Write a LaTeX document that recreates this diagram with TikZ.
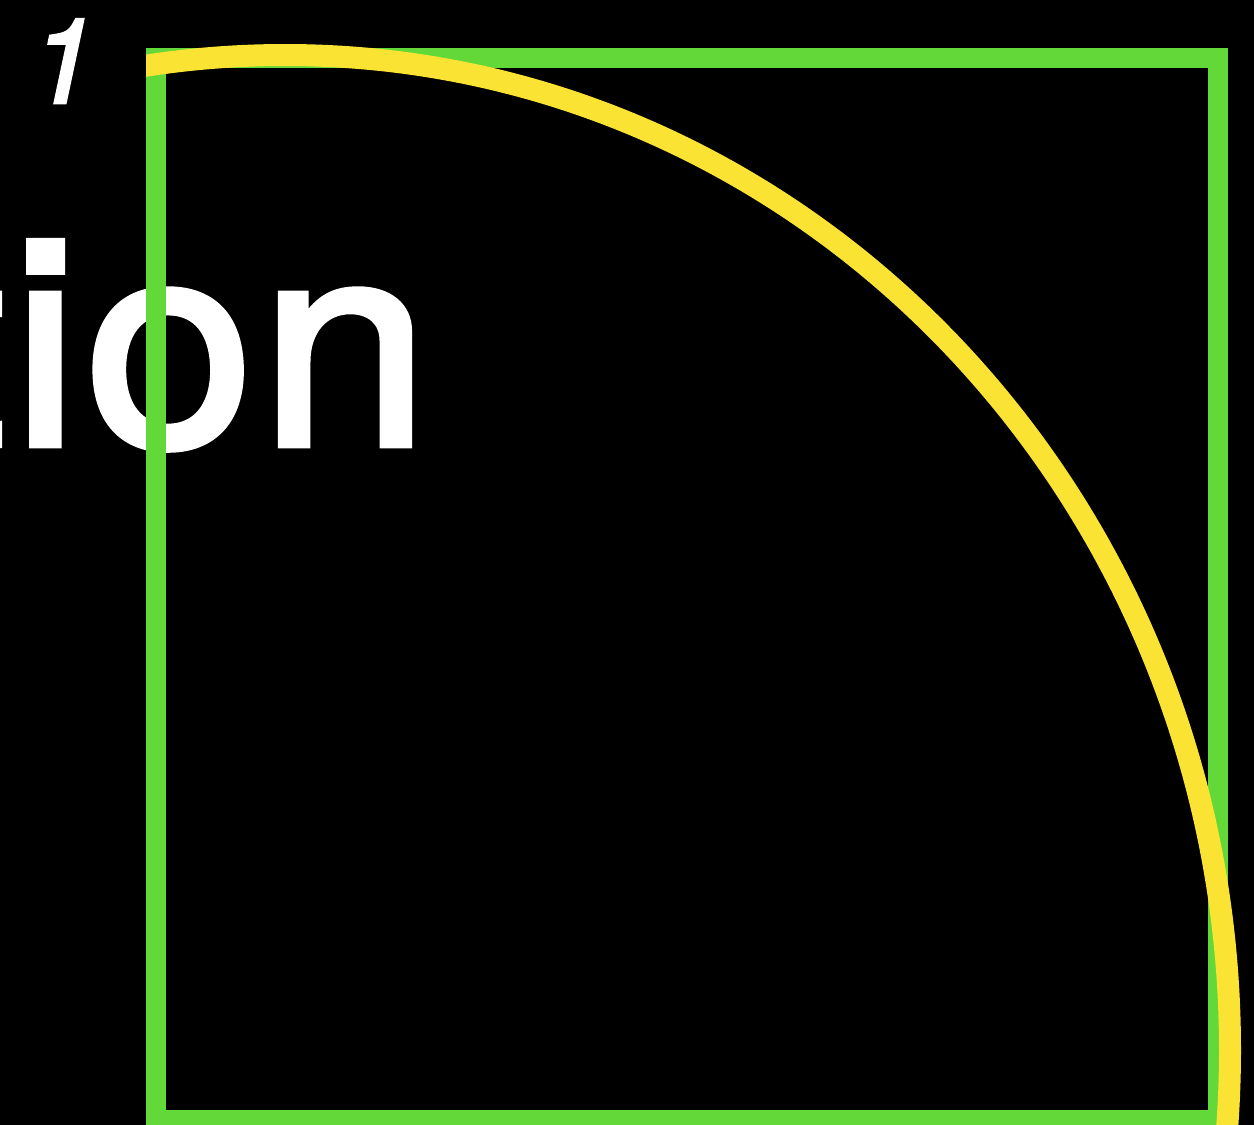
\documentclass[tikz,border=0pt]{standalone}
\usepackage{fontspec}
\newfontfamily\heros[FakeBold=2.4]{TeX Gyre Heros}
\definecolor{sqgreen}{RGB}{98,217,56}
\definecolor{arcyellow}{RGB}{251,227,51}
\tikzset{
  bigword/.style={anchor=base west, inner sep=0pt, text=white, font=\heros\fontsize{288}{292}\selectfont},
  smalllabel/.style={anchor=base west, inner sep=0pt, text=white, font=\heros\itshape\fontsize{118}{120}\selectfont},
  squareline/.style={draw=sqgreen, line width=20pt},
  arcline/.style={draw=arcyellow, line width=22pt}
}
\begin{document}
\begin{tikzpicture}[x=1pt,y=-1pt]
  \useasboundingbox (0,0) rectangle (1254,1125);
  \fill[black] (0,0) rectangle (1254,1125);
  \node[bigword] (word) at (-79,445) {\scalebox{1.056}[1]{t\kern5.7pt i\kern5.7pt o\kern5.7pt n}};
  \node[smalllabel] (one) at (30,103) {1};
  \draw[squareline] (155.5,57.5) rectangle (1218,1120);
  \begin{scope}
    \clip (146,-50) rectangle (1300,1200);
    \draw[arcline] (285,1050) ellipse [x radius=945, y radius=995];
  \end{scope}
\end{tikzpicture}
\end{document}
